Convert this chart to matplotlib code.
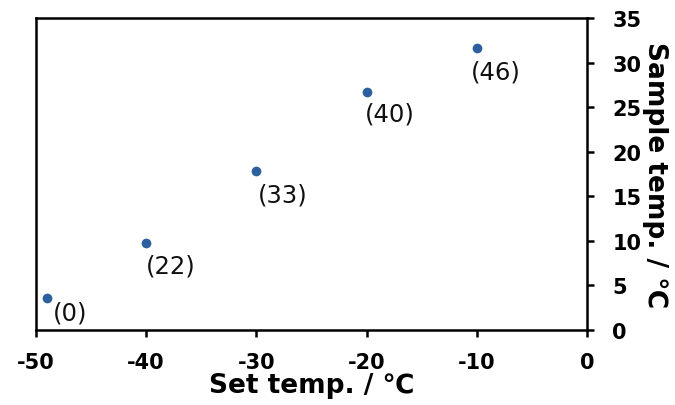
import matplotlib
matplotlib.use('Agg')
import matplotlib.pyplot as plt

# set temperature (x), sample temperature (y), bracketed labels
set_temp = [-49, -40, -30, -20, -10]
sample_temp = [3.6, 9.7, 17.8, 26.7, 31.6]
labels = ['(0)', '(22)', '(33)', '(40)', '(46)']
# label offsets in pixels relative to each point
offsets = [(6, -15), (0, -22), (2, -23), (-2, -21), (-6, -23)]

plt.rcParams['font.family'] = ['DejaVu Sans']
plt.rcParams['axes.unicode_minus'] = False

fig = plt.figure(figsize=(6.75, 4.06), dpi=100)
ax = fig.add_axes([0.053, 0.185, 0.817, 0.768])

ax.plot(set_temp, sample_temp, 'o', color='#2b5f9e', markersize=7, markeredgewidth=0)

for x, y, lab, (dx, dy) in zip(set_temp, sample_temp, labels, offsets):
    ax.annotate(lab, (x, y), xytext=(dx, dy), textcoords='offset pixels',
                ha='left', va='center', fontsize=17.5, color='#111111')

ax.set_xlim(-50, 0)
ax.set_ylim(0, 35)
ax.set_xticks(range(-50, 1, 10))
ax.set_yticks(range(0, 36, 5))

ax.yaxis.tick_right()
ax.yaxis.set_label_position('right')

for s in ax.spines.values():
    s.set_linewidth(1.8)

ax.tick_params(axis='both', direction='out', length=5, width=1.8,
               labelsize=15)
ax.tick_params(axis='x', pad=11)
ax.tick_params(axis='y', pad=13)
for t in ax.get_xticklabels() + ax.get_yticklabels():
    t.set_fontweight('bold')

ax.set_xlabel('Set temp. / ℃', fontsize=19, fontweight='bold', labelpad=0)
ax.set_ylabel('Sample temp. / ℃', fontsize=19, fontweight='bold',
              rotation=270, labelpad=19)

fig.savefig('out.png', dpi=100)
